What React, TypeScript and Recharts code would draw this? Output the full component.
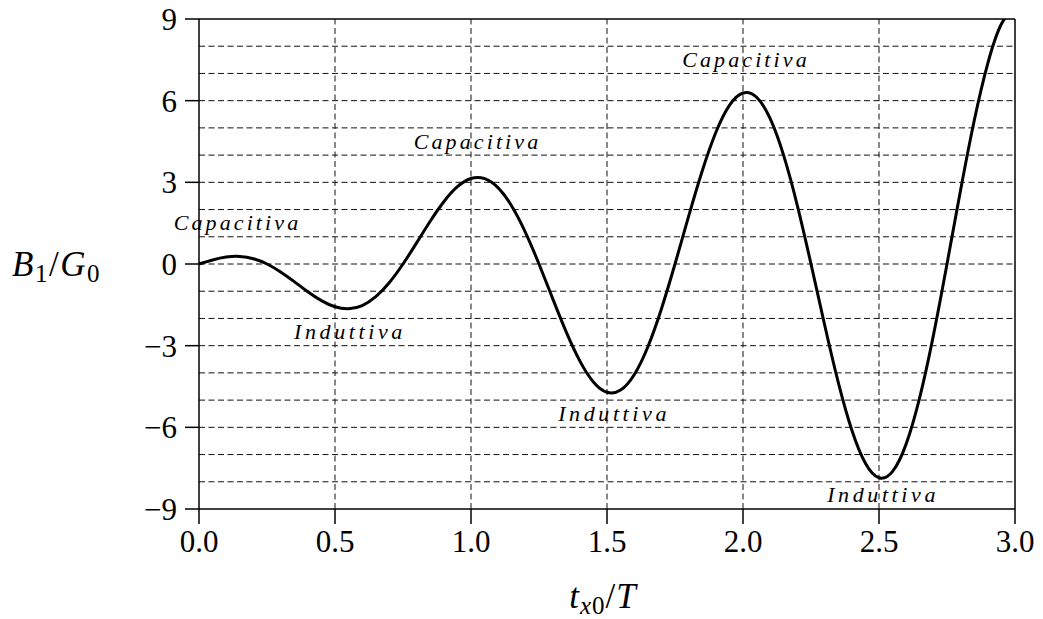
import React from "react";
import { LineChart, Line, XAxis, YAxis, ReferenceLine, ReferenceDot } from "recharts";

const tValues = [
  0, 0.05, 0.1, 0.15, 0.2, 0.25, 0.3, 0.35, 0.4, 0.45, 0.5, 0.55, 0.6, 0.65, 0.7, 0.75, 0.8, 0.85, 0.9, 0.95,
  1.0, 1.05, 1.1, 1.15, 1.2, 1.25, 1.3, 1.35, 1.4, 1.45, 1.5, 1.55, 1.6, 1.65, 1.7, 1.75, 1.8, 1.85, 1.9, 1.95,
  2.0, 2.05, 2.1, 2.15, 2.2, 2.25, 2.3, 2.35, 2.4, 2.45, 2.5, 2.55, 2.6, 2.65, 2.7, 2.75, 2.8, 2.85, 2.9, 2.95, 3.0,
];
const bValues = [
  0, 0.149, 0.254, 0.277, 0.194, 0, -0.291, -0.646, -1.017, -1.345, -1.571, -1.643, -1.525, -1.2, -0.68, 0,
  0.777, 1.57, 2.287, 2.839, 3.142, 3.137, 2.796, 2.124, 1.165, 0, -1.262, -2.493, -3.558, -4.333, -4.712,
  -4.631, -4.067, -3.047, -1.65, 0, 1.747, 3.416, 4.829, 5.827, 6.283, 6.125, 5.337, 3.97, 2.136, 0, -2.233,
  -4.34, -6.1, -7.321, -7.854, -7.619, -6.608, -4.894, -2.621, 0, 2.718, 5.263, 7.371, 8.815, 9.425,
];

const xTicks = [0, 0.5, 1.0, 1.5, 2.0, 2.5, 3.0];
const yTicks = [-9, -6, -3, 0, 3, 6, 9];
const xGrid = [0.5, 1.0, 1.5, 2.0, 2.5];
const yGrid = [-8, -7, -6, -5, -4, -3, -2, -1, 0, 1, 2, 3, 4, 5, 6, 7, 8];

const annotationText = ["Capacitiva", "Induttiva", "Capacitiva", "Induttiva", "Capacitiva", "Induttiva"];
const annotationX = [0.1415, 0.555, 1.024, 1.526, 2.011, 2.515];
const annotationY = [1.5, -2.5, 4.5, -5.5, 7.5, -8.5];

const data = tValues.map((t, i) => ({ t, b: bValues[i] }));
const annotations = annotationText.map((text, i) => ({ text, x: annotationX[i], y: annotationY[i] }));

const SERIF = '"Liberation Serif"';
const fmtY = (v: number) => (v < 0 ? "\u2212" + Math.abs(v) : String(v));
const fmtX = (v: number) => v.toFixed(1);

export default function App() {
  return (
    <div style={{ position: "absolute", left: 0, top: 0, width: 1043, height: 619, background: "#fff" }}>
      <LineChart width={1043} height={619} data={data} margin={{ top: 19, right: 28, left: 0, bottom: 0 }}>
        {yGrid.map((v) => (
          <ReferenceLine key={"hy" + v} y={v} stroke="#111" strokeWidth={1} strokeDasharray="6 3.5" />
        ))}
        {xGrid.map((v) => (
          <ReferenceLine key={"vx" + v} x={v} stroke="#111" strokeWidth={1} strokeDasharray="6 3.5" />
        ))}
        <ReferenceLine y={9} stroke="#000" strokeWidth={1.5} />
        <ReferenceLine x={3} stroke="#000" strokeWidth={1.5} />
        <XAxis
          dataKey="t"
          type="number"
          domain={[0, 3]}
          ticks={xTicks}
          tickFormatter={fmtX}
          height={110}
          tickSize={15}
          tickMargin={6}
          stroke="#000"
          strokeWidth={1.5}
          tick={{ fill: "#000", fontSize: 31, fontFamily: SERIF }}
          interval={0}
          label={{
            content: () => (
              <text x={603} y={608} textAnchor="middle" fontFamily={SERIF} fontSize={35} fill="#000" letterSpacing={1}>
                <tspan fontStyle="italic">t</tspan>
                <tspan fontStyle="italic" fontSize={25} dy={6}>x</tspan>
                <tspan fontSize={25}>0</tspan>
                <tspan dy={-6}>/</tspan>
                <tspan fontStyle="italic">T</tspan>
              </text>
            ),
          }}
        />
        <YAxis
          type="number"
          domain={[-9, 9]}
          ticks={yTicks}
          tickFormatter={fmtY}
          allowDataOverflow
          width={199}
          tickSize={14}
          tickMargin={8}
          stroke="#000"
          strokeWidth={1.5}
          tick={{ fill: "#000", fontSize: 31, fontFamily: SERIF }}
          interval={0}
          label={{
            content: () => (
              <text x={12} y={276} textAnchor="start" fontFamily={SERIF} fontSize={35} fill="#000" letterSpacing={1.5}>
                <tspan fontStyle="italic">B</tspan>
                <tspan fontSize={25} dy={6}>1</tspan>
                <tspan dy={-6}>/</tspan>
                <tspan fontStyle="italic">G</tspan>
                <tspan fontSize={25} dy={6}>0</tspan>
              </text>
            ),
          }}
        />
        <Line
          dataKey="b"
          type="natural"
          stroke="#000"
          strokeWidth={3}
          dot={false}
          isAnimationActive={false}
        />
        {annotations.map((a, i) => (
          <ReferenceDot
            key={"a" + i}
            x={a.x}
            y={a.y}
            r={0}
            ifOverflow="visible"
            shape={(p: any) => (
              <text
                x={p.cx}
                y={p.cy}
                dy={7}
                textAnchor="middle"
                fontFamily={SERIF}
                fontStyle="italic"
                fontSize={22}
                letterSpacing={a.text === "Capacitiva" ? 3.1 : 3.6}
                fill="#000"
              >
                {a.text}
              </text>
            )}
          />
        ))}
      </LineChart>
    </div>
  );
}
